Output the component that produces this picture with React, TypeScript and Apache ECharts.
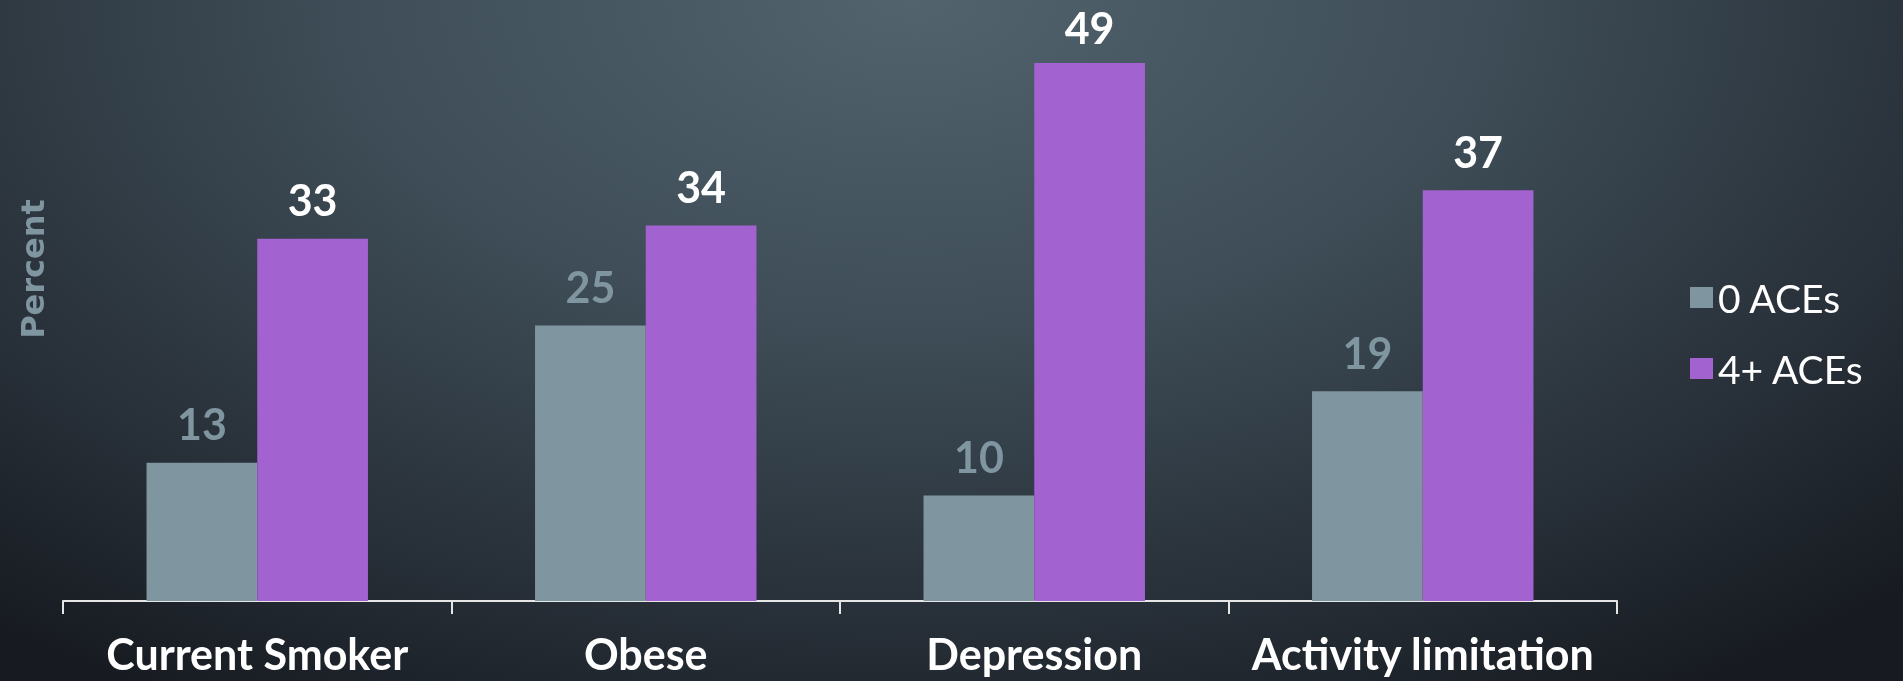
import React, { useEffect, useRef } from "react";
import * as echarts from "echarts";

const categories = ["Current Smoker", "Obese", "Depression", "Activity limitation"];
const seriesNames = ["0 ACEs", "4+ ACEs"];
const zeroAces = [12.6, 25.1, 9.6, 19.1];
const fourPlusAces = [33.0, 34.2, 49.0, 37.4];
const yAxisTitle = "Percent";

const GRAY = "#7f95a0";
const PURPLE = "#a262d0";
const FONT = "Lato, 'Noto Sans', sans-serif";

export default function App() {
  const ref = useRef<HTMLDivElement>(null);
  useEffect(() => {
    if (!ref.current) return;
    const chart = echarts.init(ref.current, null, { renderer: "svg" });
    const fmt = (p: any) => String(Math.round(p.value));
    const maxVal = Math.max(...fourPlusAces);
    chart.setOption({
      animation: false,
      backgroundColor: "transparent",
      grid: { left: 63, right: 286, top: 52, bottom: 80, containLabel: false },
      legend: {
        orient: "vertical",
        left: 1685,
        top: 273,
        icon: "rect",
        itemWidth: 23,
        itemHeight: 21,
        itemGap: 32,
        itemTextGap: 8,
        itemStyle: { borderWidth: 0 },
        textStyle: { color: "#ffffff", fontSize: 39, fontFamily: FONT, lineHeight: 38, padding: [0, 0, 0, 0] },
        data: seriesNames,
      },
      graphic: [
        {
          type: "text",
          x: 33,
          y: 269,
          rotation: Math.PI / 2,
          style: {
            text: yAxisTitle,
            fill: GRAY,
            fontSize: 32,
            fontWeight: "bold",
            fontFamily: "'DejaVu Sans', sans-serif",
            textAlign: "center",
            textVerticalAlign: "middle",
          },
        },
      ],
      xAxis: {
        type: "category",
        data: categories,
        axisLine: { show: true, lineStyle: { color: "#e6e6e6", width: 2 } },
        axisTick: { show: true, length: 13, lineStyle: { color: "#e6e6e6", width: 2 } },
        axisLabel: {
          color: "#ffffff",
          fontSize: 43,
          fontWeight: "bold",
          fontFamily: FONT,
          margin: 31,
          interval: 0,
        },
      },
      yAxis: {
        type: "value",
        min: 0,
        max: 50,
        axisLine: { show: false },
        axisTick: { show: false },
        axisLabel: { show: false },
        splitLine: { show: false },
      },
      series: [
        {
          name: seriesNames[0],
          type: "bar",
          data: zeroAces,
          barGap: "0%",
          barCategoryGap: "43%",
          itemStyle: { color: GRAY },
          label: {
            show: true,
            position: "top",
            distance: 22,
            color: GRAY,
            fontSize: 43,
            lineHeight: 34,
            fontWeight: "bold",
            fontFamily: FONT,
            formatter: fmt,
          },
        },
        {
          name: seriesNames[1],
          type: "bar",
          data: fourPlusAces.map((v) =>
            v === maxVal ? { value: v, label: { distance: 18 } } : v
          ),
          barGap: "0%",
          barCategoryGap: "43%",
          itemStyle: { color: PURPLE },
          label: {
            show: true,
            position: "top",
            distance: 22,
            color: "#ffffff",
            fontSize: 43,
            lineHeight: 34,
            fontWeight: "bold",
            fontFamily: FONT,
            formatter: fmt,
          },
        },
      ],
    });
    return () => chart.dispose();
  }, []);
  return (
    <div
      style={{
        position: "fixed",
        left: 0,
        top: 0,
        width: 1903,
        height: 681,
        background:
          "radial-gradient(ellipse 75% 120% at 48% 0%, #52636e 0%, #3e4d57 40%, #283039 75%, #171b21 100%)",
      }}
    >
      <div ref={ref} style={{ width: 1903, height: 681 }} />
    </div>
  );
}
